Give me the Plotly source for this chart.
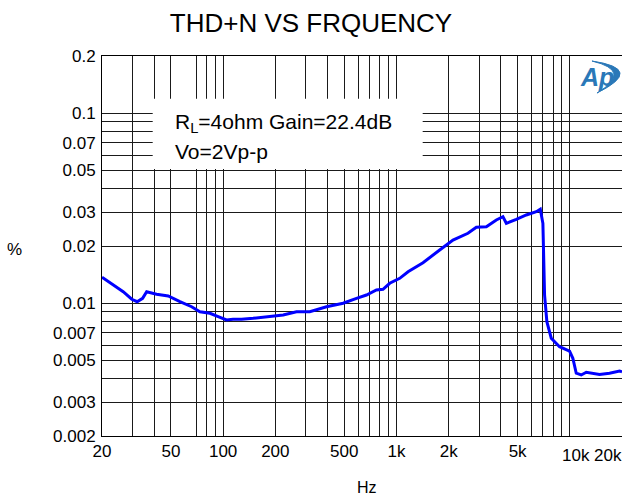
import plotly.graph_objects as go
import numpy as np

# ---- data ----
freq_hz = [20, 23.2, 26.5, 29.7, 31.9, 34.3, 36.2, 41.3, 48.2, 56.3, 65.8, 73.4, 83.9, 93.6,
           104.6, 114, 127.7, 149, 178, 222, 265, 316, 395, 492, 588, 671, 766, 836, 914,
           1044, 1166, 1422, 1775, 2118, 2584, 2888, 3300, 3766, 4112, 4302, 4912, 5608,
           6406, 6756, 6992, 7058, 7150, 7372, 7814, 8724, 9964, 10410, 10890, 11640,
           12440, 14840, 16940, 19350, 20000]
thd_pct = [0.01369, 0.01247, 0.01149, 0.01049, 0.01018, 0.01061, 0.01149, 0.01114, 0.01091,
           0.01018, 0.00958, 0.00902, 0.00885, 0.00849, 0.00816, 0.00823, 0.00823, 0.00833,
           0.00849, 0.00867, 0.00902, 0.00902, 0.00958, 0.00999, 0.01061, 0.01104, 0.01173,
           0.01183, 0.01273, 0.01352, 0.01464, 0.01634, 0.01905, 0.0215, 0.02334, 0.02509,
           0.02528, 0.02742, 0.02854, 0.02634, 0.02764, 0.02913, 0.0303, 0.03122, 0.02634,
           0.02024, 0.01104, 0.00799, 0.00654, 0.0059, 0.0056, 0.00513, 0.00428, 0.00419,
           0.00433, 0.00422, 0.00428, 0.0044, 0.00435]

x_grid = [20, 30, 40, 50, 70, 80, 90, 100, 200, 300, 400, 500, 600, 700, 800, 900, 1000,
          2000, 3000, 4000, 5000, 6000, 7000, 8000, 9000, 10000, 20000]
x_labels = {20: "20", 50: "50", 100: "100", 200: "200", 500: "500", 1000: "1k",
            2000: "2k", 5000: "5k"}
y_grid = [0.002, 0.003, 0.004, 0.005, 0.006, 0.007, 0.008, 0.009, 0.01,
          0.02, 0.03, 0.04, 0.05, 0.06, 0.07, 0.08, 0.09, 0.1, 0.2]
y_labels = {0.002: "0.002", 0.003: "0.003", 0.005: "0.005", 0.007: "0.007", 0.01: "0.01",
            0.02: "0.02", 0.03: "0.03", 0.05: "0.05", 0.07: "0.07", 0.1: "0.1", 0.2: "0.2"}
extra_x_labels = [("10k", 10890), ("20k", 16500)]

title_text = "THD+N VS FRQUENCY"
note_lines = ["R<sub>L</sub>=4ohm Gain=22.4dB", "Vo=2Vp-p"]

FONT = "Arial, Liberation Sans, sans-serif"
LOGO = "#2a78b8"

fig = go.Figure()
fig.add_trace(go.Scatter(x=freq_hz, y=thd_pct, mode="lines",
                         line=dict(color="#0000ff", width=3), showlegend=False,
                         hoverinfo="skip"))

axis_common = dict(type="log", showgrid=True, gridcolor="#1a1a1a", gridwidth=1,
                   showline=True, linecolor="#000", linewidth=1, mirror=True,
                   zeroline=False, ticks="", tickfont=dict(family=FONT, size=17, color="#000"))

fig.update_xaxes(range=[np.log10(20), np.log10(20000)], tickmode="array",
                 tickvals=x_grid, ticktext=[x_labels.get(v, "") for v in x_grid],
                 **axis_common)
fig.update_yaxes(range=[np.log10(0.002), np.log10(0.2)], tickmode="array",
                 tickvals=y_grid, ticktext=[y_labels.get(v, "") for v in y_grid],
                 ticklabelstandoff=2, **axis_common)

shapes = [
    # white text box hiding grid
    dict(type="rect", xref="paper", yref="paper", x0=0.0975, x1=0.6167, y0=0.7026, y1=0.8876,
         fillcolor="white", line=dict(width=0), layer="above"),
    # AP logo crescent swoosh
    dict(type="path", xref="paper", yref="paper",
         path="M 0.9423,0.9868 Q 1.0453,0.9659 0.9519,0.9026 Q 1.0221,0.9605 0.9423,0.9868 Z",
         fillcolor=LOGO, line=dict(color=LOGO, width=1), layer="above"),
]

annotations = [
    dict(text=note_lines[0], xref="paper", yref="paper", x=0.1365, y=0.8245,
         xanchor="left", yanchor="middle", showarrow=False,
         font=dict(family=FONT, size=21, color="#000")),
    dict(text=note_lines[1], xref="paper", yref="paper", x=0.1365, y=0.75,
         xanchor="left", yanchor="middle", showarrow=False,
         font=dict(family=FONT, size=21, color="#000")),
    dict(text="%", xref="paper", yref="paper", x=-0.169, y=0.492, showarrow=False,
         xanchor="center", yanchor="middle", font=dict(family=FONT, size=17, color="#000")),
    dict(text="Hz", xref="paper", yref="paper", x=(367 - 102) / 520, y=-(487 - 436) / 380,
         showarrow=False, xanchor="center", yanchor="middle",
         font=dict(family=FONT, size=16, color="#000")),
    dict(text="<b><i>Ap</i></b>", xref="paper", yref="paper", x=(597 - 102) / 520,
         y=(436 - 77) / 380, showarrow=False, xanchor="center", yanchor="middle",
         font=dict(family=FONT, size=25, color=LOGO)),
]
for lab, fx in extra_x_labels:
    annotations.append(dict(text=lab, xref="x", yref="paper", x=np.log10(fx), y=0,
                            yshift=-19, showarrow=False, xanchor="center",
                            yanchor="middle",
                            font=dict(family=FONT, size=17, color="#000")))

fig.update_layout(
    width=622, height=495,
    margin=dict(l=102, r=0, t=56, b=59),
    paper_bgcolor="white", plot_bgcolor="white",
    title=dict(text=title_text, x=0.5, xref="container", xanchor="center",
               y=1 - 23 / 495, yref="container", yanchor="middle",
               font=dict(family=FONT, size=26, color="#000")),
    shapes=shapes, annotations=annotations,
)

fig.write_html("out.html", config={"displayModeBar": False},
               post_script="document.body.style.margin='0';document.body.style.overflow='hidden';")
